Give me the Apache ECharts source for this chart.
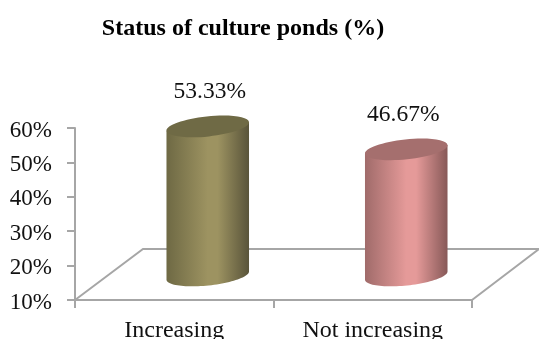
<!DOCTYPE html>
<html>
<head>
<meta charset="utf-8">
<style>html,body{margin:0;padding:0;background:#fff}#c{width:539px;height:339px}</style>
<script src="https://cdn.jsdelivr.net/npm/echarts@6/dist/echarts.min.js"></script>
</head>
<body>
<div id="c"></div>
<script>
const categories = ['Increasing', 'Not increasing'];
const values = [53.33, 46.67];
const yTicks = { min: 10, max: 60, interval: 10 };
const titleText = 'Status of culture ponds (%)';
const bodyColors = [
  ['#6e6944', '#9d9361', '#59543a'],
  ['#a06b6a', '#e59a99', '#875958']
];
const capColors = ['#6f6a45', '#a56f6e'];

const FONT = '"Liberation Serif", "Times New Roman", serif';
const DEPTH_X = 67, DEPTH_Y = 51, AXIS = '#a6a6a6';
const labelDx = [2, -3];

const chart = echarts.init(document.getElementById('c'), null, { renderer: 'canvas' });

function renderFloor(params, api) {
  const cs = params.coordSys;
  const x0 = cs.x, x1 = cs.x + cs.width, y0 = cs.y + cs.height;
  return {
    type: 'polyline',
    silent: true,
    shape: { points: [[x0, y0], [x0 + DEPTH_X + 1, y0 - DEPTH_Y], [x1 + DEPTH_X, y0 - DEPTH_Y], [x1, y0]] },
    style: { fill: 'none', stroke: AXIS, lineWidth: 2 }
  };
}

function renderCylinder(params, api) {
  const i = api.value(0), v = api.value(1);
  const top = api.coord([i, v]), base = api.coord([i, yTicks.min]);
  const cx = top[0] + DEPTH_X / 2, yt = top[1] - DEPTH_Y / 2 + 1, yb = base[1] - DEPTH_Y / 2 + 1;
  const rx = 41.5, ry = 10, a = -6 * Math.PI / 180;
  const ex = rx * Math.cos(a), ey = rx * Math.sin(a);
  const c = bodyColors[i];
  const pts = [[cx + ex, yt + ey]];
  for (let k = 0; k <= 48; k++) {
    const t = Math.PI * k / 48;
    const px = rx * Math.cos(t), py = ry * Math.sin(t);
    pts.push([cx + px * Math.cos(a) - py * Math.sin(a), yb + px * Math.sin(a) + py * Math.cos(a)]);
  }
  pts.push([cx - ex, yt - ey]);
  return {
    type: 'group',
    children: [
      {
        type: 'polygon',
        shape: { points: pts },
        style: {
          fill: new echarts.graphic.LinearGradient(0, 0, 1, 0, [
            { offset: 0, color: c[0] }, { offset: 0.5, color: c[1] },
            { offset: 0.62, color: c[1] }, { offset: 1, color: c[2] }
          ])
        }
      },
      {
        type: 'ellipse',
        x: cx, y: yt, originX: 0, originY: 0,
        rotation: -a,
        shape: { cx: 0, cy: 0, rx: rx, ry: ry },
        style: { fill: capColors[i] }
      },
      {
        type: 'text',
        x: cx + labelDx[i], y: yt - 34.5,
        style: { text: v.toFixed(2) + '%', font: '23.5px ' + FONT, fill: '#111', align: 'center', verticalAlign: 'middle' }
      }
    ]
  };
}

chart.setOption({
  animation: false,
  backgroundColor: '#fff',
  title: {
    text: titleText, left: 238, top: 12, textAlign: 'center',
    textStyle: { fontFamily: FONT, fontWeight: 'bold', fontSize: 24, color: '#000' }
  },
  grid: { left: 75, right: 67, top: 128, bottom: 39, containLabel: false, outerBoundsMode: 'none' },
  xAxis: {
    type: 'category', data: categories,
    axisLine: { lineStyle: { color: AXIS, width: 2 } },
    axisTick: { show: true, length: 8, alignWithLabel: false, lineStyle: { color: AXIS, width: 2 } },
    axisLabel: { fontFamily: FONT, fontSize: 24, color: '#111', margin: 19, interval: 0 }
  },
  yAxis: {
    type: 'value', min: yTicks.min, max: yTicks.max, interval: yTicks.interval,
    axisLine: { show: true, lineStyle: { color: AXIS, width: 2 } },
    axisTick: { show: true, length: 8, lineStyle: { color: AXIS, width: 2 } },
    splitLine: { show: false },
    axisLabel: { formatter: '{value}%', fontFamily: FONT, fontSize: 23, color: '#111', margin: 23, verticalAlign: 'top', lineHeight: 5 }
  },
  series: [
    { type: 'custom', z: 1, clip: false, renderItem: renderFloor, data: [0], silent: true },
    { type: 'custom', z: 2, clip: false, renderItem: renderCylinder,
      encode: { x: 0, y: 1 },
      data: values.map((v, i) => [i, v]) }
  ]
});
</script>
</body>
</html>
